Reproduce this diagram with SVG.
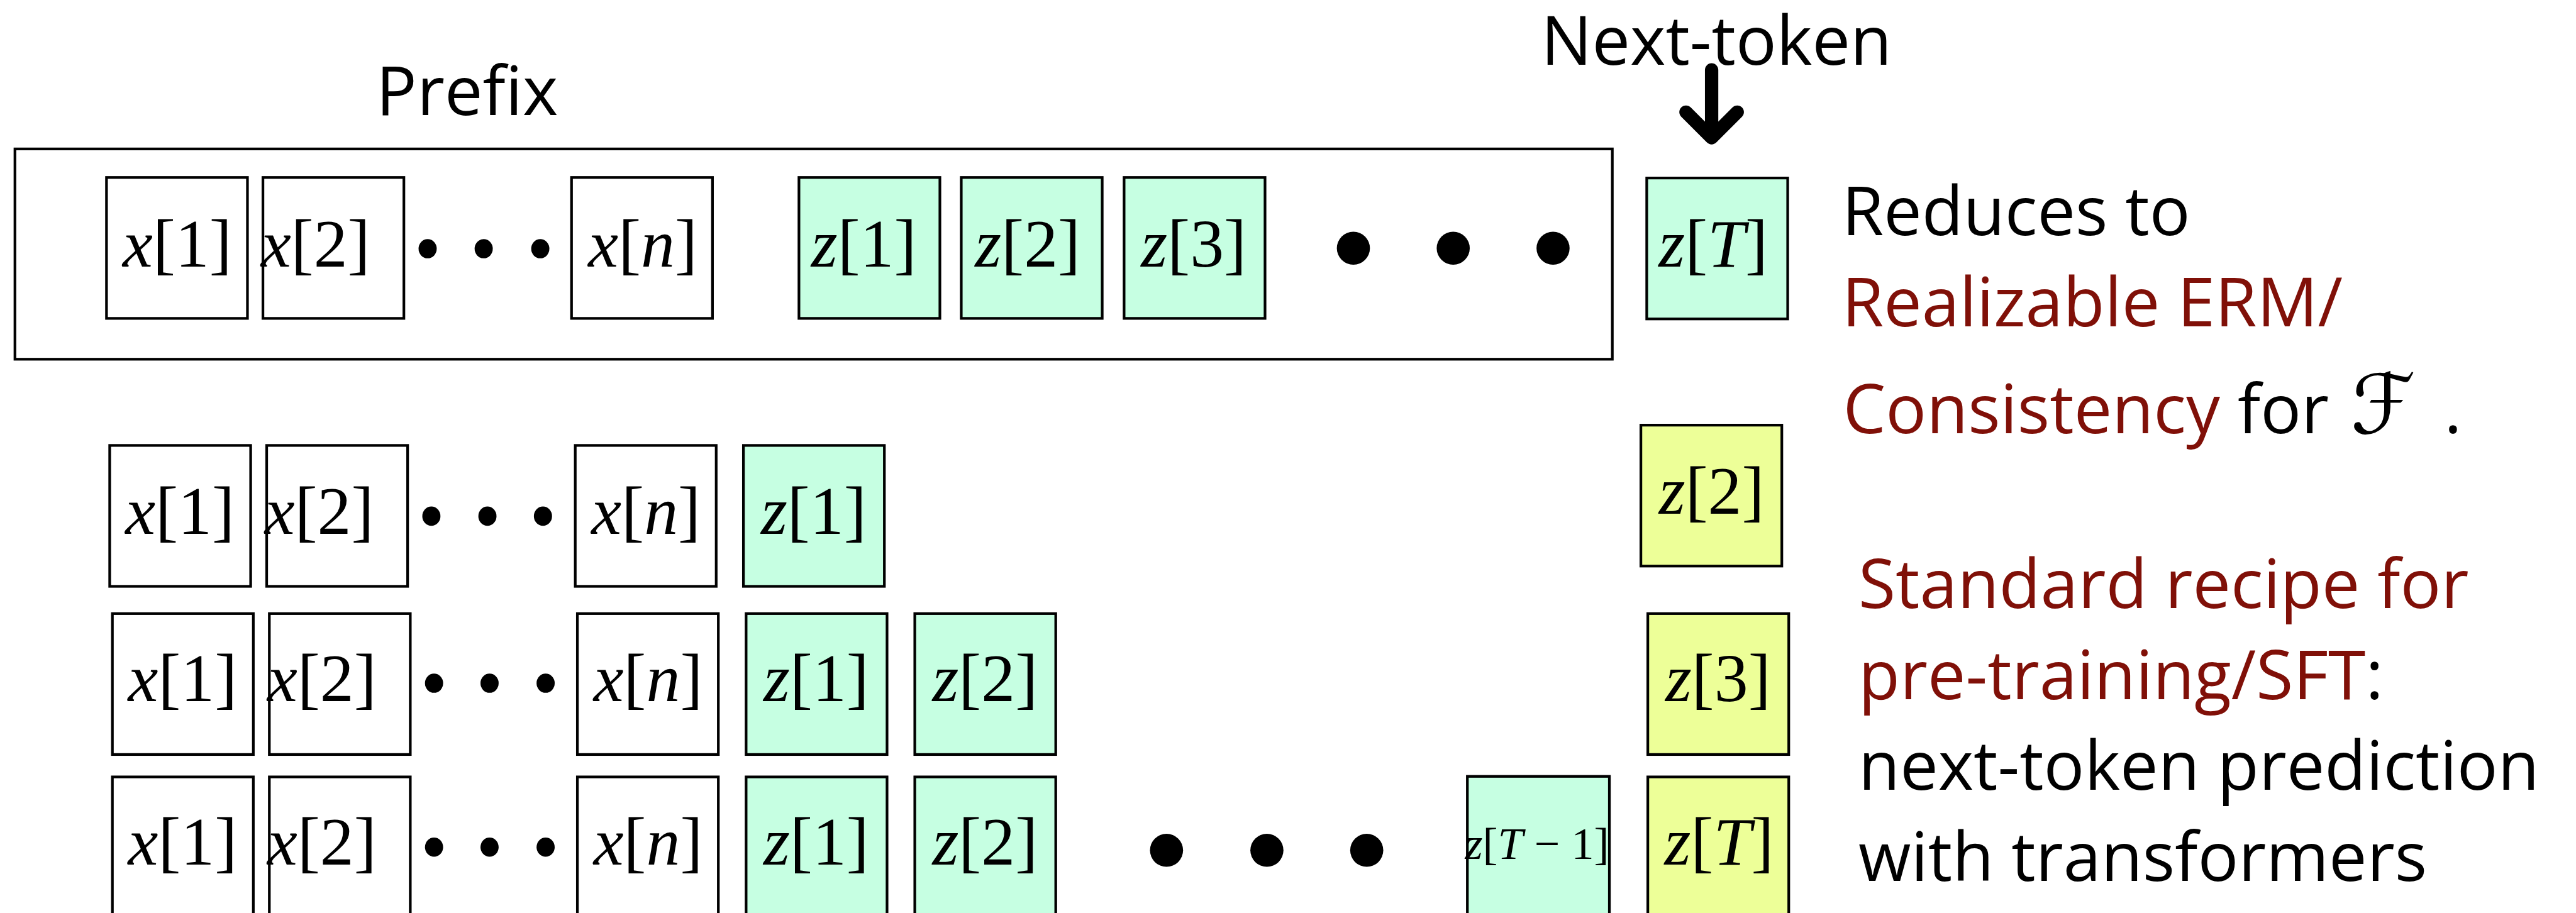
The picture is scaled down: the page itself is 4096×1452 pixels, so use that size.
<svg xmlns="http://www.w3.org/2000/svg" width="4096" height="1452" viewBox="0 0 4096 1452">
<style>
.b{stroke:#000;stroke-width:5}
.w{fill:#fff}
.g{fill:#C6FFE2}
.y{fill:#EDFF98}
.m{font-family:"Liberation Serif","Times New Roman",serif;font-size:127px;fill:#000;text-anchor:middle}
.i{font-style:italic}
.s{font-family:"Open Sans","Liberation Sans",sans-serif;font-size:127px;fill:#000}
.r{fill:#801008}
.dot{fill:#000}
</style>
<rect width="4096" height="1452" fill="#fff"/>
<g transform="scale(0.8489)">
<g id="labels">
<text class="s" x="875" y="216" text-anchor="middle">Prefix</text>
<text class="s" x="3215" y="121" text-anchor="middle">Next-token</text>
</g>
<g id="prefix-frame"><rect class="b" x="28" y="279" width="2992" height="394" fill="none"/></g>

<!-- Row 0 -->
<g id="r0-x1"><rect class="b w" x="199.5" y="332.5" width="264" height="264"/><text class="m" x="332" y="499"><tspan class="i">x</tspan>[1]</text></g>
<g id="r0-x2"><rect class="b w" x="492.5" y="332.5" width="264" height="264"/><text class="m" x="591" y="499"><tspan class="i">x</tspan>[2]</text></g>
<g id="r0-dots"><ellipse class="dot" cx="801" cy="466" rx="17" ry="18"/><ellipse class="dot" cx="906" cy="466" rx="17" ry="18"/><ellipse class="dot" cx="1012" cy="466" rx="17" ry="18"/></g>
<g id="r0-xn"><rect class="b w" x="1070.5" y="332.5" width="264" height="264"/><text class="m" x="1204" y="499"><tspan class="i">x</tspan>[<tspan class="i">n</tspan>]</text></g>
<g id="r0-z1"><rect class="b g" x="1496.5" y="332.5" width="264" height="264"/><text class="m" x="1618" y="499"><tspan class="i">z</tspan>[1]</text></g>
<g id="r0-z2"><rect class="b g" x="1800.5" y="332.5" width="264" height="264"/><text class="m" x="1925" y="499"><tspan class="i">z</tspan>[2]</text></g>
<g id="r0-z3"><rect class="b g" x="2105.5" y="332.5" width="264" height="264"/><text class="m" x="2236" y="499"><tspan class="i">z</tspan>[3]</text></g>
<g id="r0-bigdots"><circle class="dot" cx="2535" cy="465" r="31"/><circle class="dot" cx="2722" cy="465" r="31"/><circle class="dot" cx="2909" cy="465" r="31"/></g>
<g id="r0-zT"><rect class="b g" x="3084.5" y="333.5" width="264" height="264"/><text class="m" x="3209" y="499"><tspan class="i">z</tspan>[<tspan class="i">T</tspan>]</text></g>

<!-- Row 1 -->
<g id="r1-x1"><rect class="b w" x="205.5" y="834.5" width="264" height="264"/><text class="m" x="337" y="1000"><tspan class="i">x</tspan>[1]</text></g>
<g id="r1-x2"><rect class="b w" x="499.5" y="834.5" width="264" height="264"/><text class="m" x="598" y="1000"><tspan class="i">x</tspan>[2]</text></g>
<g id="r1-dots"><ellipse class="dot" cx="808" cy="967" rx="17" ry="18"/><ellipse class="dot" cx="913" cy="967" rx="17" ry="18"/><ellipse class="dot" cx="1017" cy="967" rx="17" ry="18"/></g>
<g id="r1-xn"><rect class="b w" x="1077.5" y="834.5" width="264" height="264"/><text class="m" x="1210" y="1000"><tspan class="i">x</tspan>[<tspan class="i">n</tspan>]</text></g>
<g id="r1-z1"><rect class="b g" x="1392.5" y="834.5" width="264" height="264"/><text class="m" x="1524" y="1000"><tspan class="i">z</tspan>[1]</text></g>
<g id="r1-z2-target"><rect class="b y" x="3073.5" y="796.5" width="264" height="264"/><text class="m" x="3206" y="963"><tspan class="i">z</tspan>[2]</text></g>

<!-- Row 2 -->
<g id="r2-x1"><rect class="b w" x="210.5" y="1149.5" width="264" height="264"/><text class="m" x="342" y="1314"><tspan class="i">x</tspan>[1]</text></g>
<g id="r2-x2"><rect class="b w" x="504.5" y="1149.5" width="264" height="264"/><text class="m" x="603" y="1314"><tspan class="i">x</tspan>[2]</text></g>
<g id="r2-dots"><ellipse class="dot" cx="813" cy="1280" rx="17" ry="18"/><ellipse class="dot" cx="917" cy="1280" rx="17" ry="18"/><ellipse class="dot" cx="1022" cy="1280" rx="17" ry="18"/></g>
<g id="r2-xn"><rect class="b w" x="1081.5" y="1149.5" width="264" height="264"/><text class="m" x="1214" y="1314"><tspan class="i">x</tspan>[<tspan class="i">n</tspan>]</text></g>
<g id="r2-z1"><rect class="b g" x="1397.5" y="1149.5" width="264" height="264"/><text class="m" x="1529" y="1314"><tspan class="i">z</tspan>[1]</text></g>
<g id="r2-z2"><rect class="b g" x="1713.5" y="1149.5" width="264" height="264"/><text class="m" x="1845" y="1314"><tspan class="i">z</tspan>[2]</text></g>
<g id="r2-z3-target"><rect class="b y" x="3086.5" y="1149.5" width="264" height="264"/><text class="m" x="3218" y="1314"><tspan class="i">z</tspan>[3]</text></g>

<!-- Row 3 -->
<g id="r3-x1"><rect class="b w" x="210.5" y="1455.5" width="264" height="264"/><text class="m" x="342" y="1620"><tspan class="i">x</tspan>[1]</text></g>
<g id="r3-x2"><rect class="b w" x="504.5" y="1455.5" width="264" height="264"/><text class="m" x="603" y="1620"><tspan class="i">x</tspan>[2]</text></g>
<g id="r3-dots"><ellipse class="dot" cx="813" cy="1587" rx="17" ry="18"/><ellipse class="dot" cx="917" cy="1587" rx="17" ry="18"/><ellipse class="dot" cx="1022" cy="1587" rx="17" ry="18"/></g>
<g id="r3-xn"><rect class="b w" x="1081.5" y="1455.5" width="264" height="264"/><text class="m" x="1214" y="1620"><tspan class="i">x</tspan>[<tspan class="i">n</tspan>]</text></g>
<g id="r3-z1"><rect class="b g" x="1397.5" y="1455.5" width="264" height="264"/><text class="m" x="1529" y="1620"><tspan class="i">z</tspan>[1]</text></g>
<g id="r3-z2"><rect class="b g" x="1713.5" y="1455.5" width="264" height="264"/><text class="m" x="1845" y="1620"><tspan class="i">z</tspan>[2]</text></g>
<g id="r3-bigdots"><circle class="dot" cx="2185" cy="1593" r="31"/><circle class="dot" cx="2373" cy="1593" r="31"/><circle class="dot" cx="2560" cy="1593" r="31"/></g>
<g id="r3-zT1"><rect class="b g" x="2748.5" y="1454.5" width="266" height="264"/><text class="m" x="2879" y="1609" style="font-size:85px"><tspan class="i">z</tspan>[<tspan class="i">T</tspan> − 1]</text></g>
<g id="r3-zT-target"><rect class="b y" x="3086.5" y="1455.5" width="264" height="264"/><text class="m" x="3220" y="1620"><tspan class="i">z</tspan>[<tspan class="i">T</tspan>]</text></g>

<g id="connectors">
<path d="M3206 131 V254 M3158 210 L3206 258 L3254 210" fill="none" stroke="#000" stroke-width="25" stroke-linecap="round" stroke-linejoin="round"/>
</g>

<g id="note-top">
<text class="s" x="3450" y="441">Reduces to</text>
<text class="s r" x="3450" y="611">Realizable ERM/</text>
<text class="s" x="3452" y="812"><tspan class="r">Consistency</tspan> for <tspan dx="8" style="font-family:'DejaVu Serif','DejaVu Sans',serif;font-style:italic;font-size:155px">ℱ</tspan><tspan dx="20"> .</tspan></text>
</g>
<g id="note-bottom">
<text class="s r" x="3481" y="1139">Standard recipe for</text>
<text class="s" x="3481" y="1310"><tspan class="r">pre-training/SFT</tspan>:</text>
<text class="s" x="3481" y="1479">next-token prediction</text>
<text class="s" x="3481" y="1650">with transformers</text>
</g>
</g>
</svg>
